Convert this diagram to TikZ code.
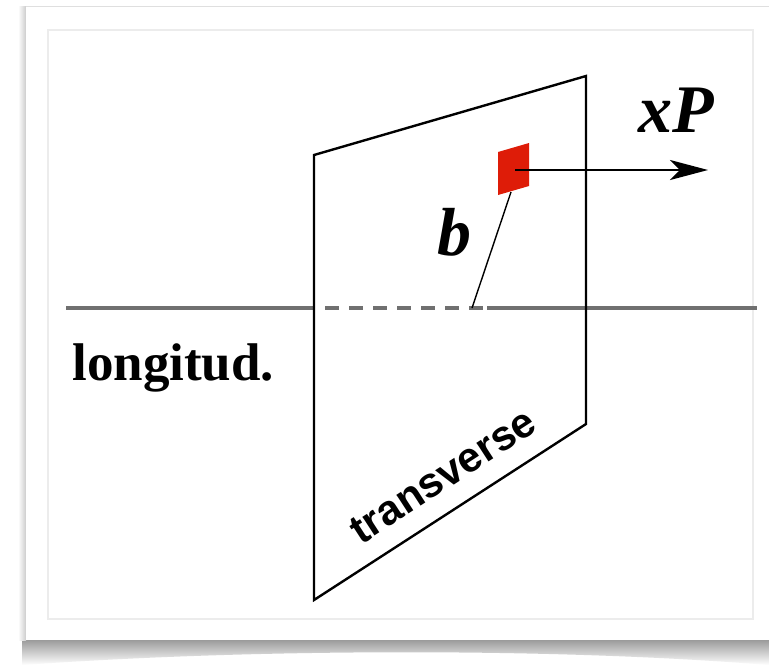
\documentclass[tikz,border=0pt]{standalone}
\usepackage{fontspec}
\setmainfont{Liberation Serif}
\newfontfamily\lblsans{Liberation Sans}
\usetikzlibrary{arrows.meta,shadings}
\definecolor{axisgray}{RGB}{112,112,112}
\definecolor{patchred}{RGB}{222,28,8}
\definecolor{framegray}{RGB}{236,236,236}
\begin{document}
\begin{tikzpicture}[x=0.5pt,y=-0.5pt,
  planeedge/.style={draw=black,line width=1.2pt,line join=miter},
  axisline/.style={draw=axisgray,line width=1.7pt},
  axisdash/.style={draw=axisgray,line width=1.7pt,dash pattern=on 7pt off 5pt},
  impact/.style={draw=black,line width=0.7pt},
  momentum/.style={draw=black,line width=1.4pt,-{Stealth[length=19pt,width=10pt,inset=5pt]}},
  serflabel/.style={font=\fontsize{26.5}{30}\selectfont\bfseries,inner sep=0pt},
  mathlabel/.style={font=\fontsize{34}{36}\selectfont\bfseries\itshape,inner sep=0pt},
  sanslabel/.style={font=\lblsans\fontsize{21}{24}\selectfont\bfseries,inner sep=0pt}]
% canvas
\useasboundingbox (0,0) rectangle (769,665);
\fill[white] (0,0) rectangle (769,665);
% card shadow below
\shade[top color=gray!85,bottom color=white] (22,638) -- (769,638) -- (769,665)
  .. controls (560,648) and (260,648) .. (22,665) -- cycle;
% left soft edge
\shade[left color=white,right color=gray!40] (18,6) rectangle (26,640);
\fill[white] (26,6) rectangle (769,640);
\draw[gray!25,line width=0.5pt] (26,6) -- (769,6);
% inner frame
\draw[framegray,line width=0.6pt] (48,30) rectangle (753,619);
% plane corners
\coordinate (tl) at (314,155);
\coordinate (tr) at (586,76);
\coordinate (br) at (586,424);
\coordinate (bl) at (314,600);
% axis
\coordinate (axL) at (66,308);
\coordinate (dashA) at (301,308);
\coordinate (hit) at (472,308);
\coordinate (dashB) at (487,308);
\coordinate (axR) at (757,308);
\draw[axisline] (axL) -- (dashA);
\draw[axisdash] (dashA) -- (dashB);
\draw[axisline] (dashB) -- (axR);
% plane
\draw[planeedge] (tl) -- (tr) -- (br) -- (bl) -- cycle;
% parton patch
\coordinate (p1) at (498,152);
\coordinate (p2) at (529,143);
\coordinate (p3) at (529,186);
\coordinate (p4) at (498,195);
\fill[patchred] (p1) -- (p2) -- (p3) -- (p4) -- cycle;
\coordinate (pbot) at (511,192);
\coordinate (pc) at (515,170);
\coordinate (tip) at (708,170);
% impact parameter
\draw[impact] (hit) -- (pbot);
% momentum arrow
\draw[momentum] (pc) -- (tip);
% labels
\node[serflabel,anchor=base west] (longl) at (72,380) {longitud.};
\node[mathlabel,anchor=base west] (xpl) at (638,132) {xP};
\node[mathlabel,anchor=base west] (bl2) at (437,255) {b};
\node[sanslabel,rotate=33] (trl) at (443,476) {transverse};
\end{tikzpicture}
\end{document}
